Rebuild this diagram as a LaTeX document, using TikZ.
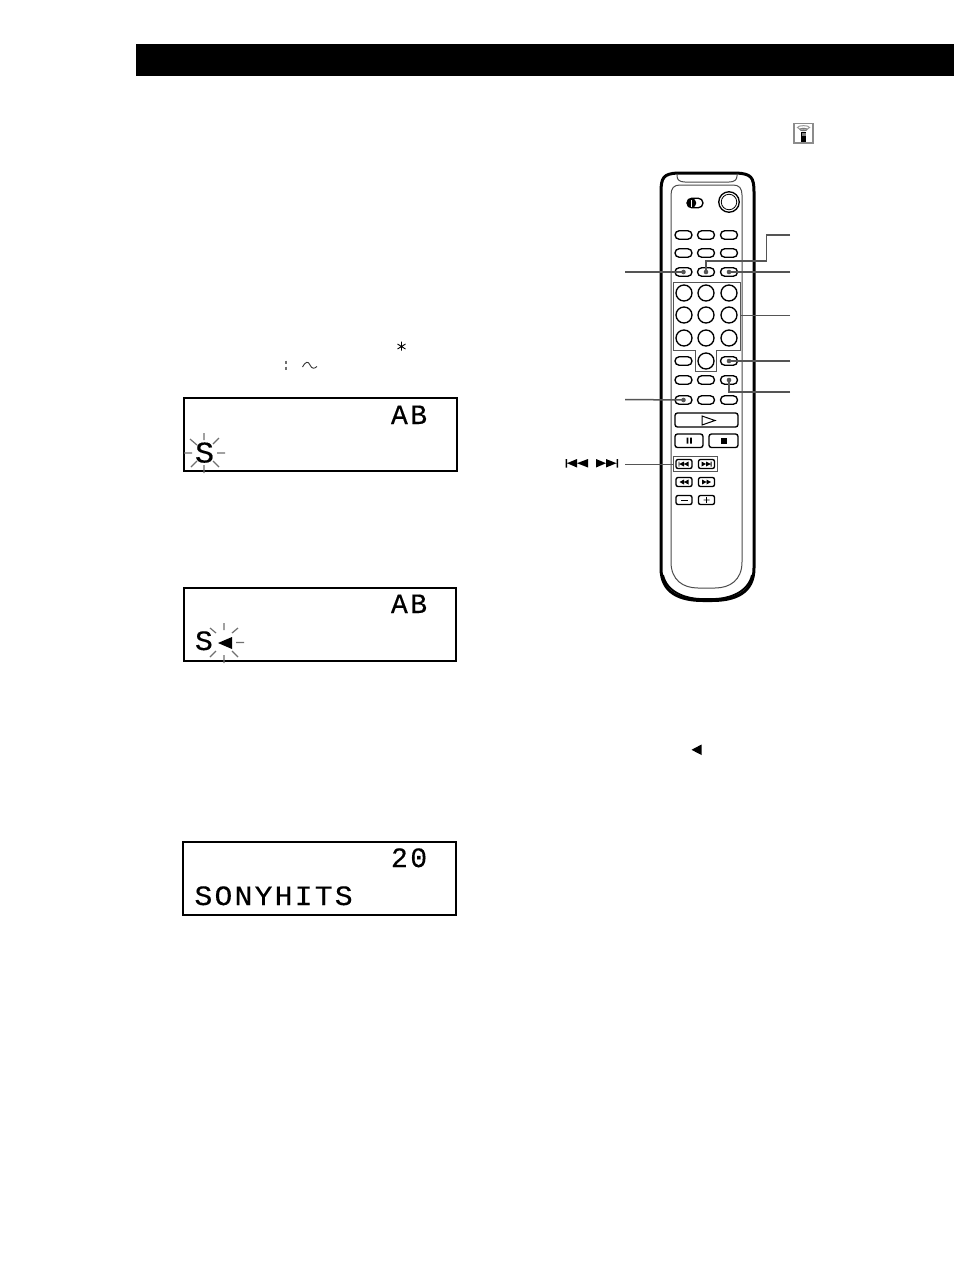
\documentclass[tikz,border=0pt]{standalone}
\usepackage{fontspec}
\newfontfamily\lcd[LetterSpace=8,FakeStretch=1.06,FakeBold=0.35]{Liberation Mono}
\newfontfamily\lcdn[LetterSpace=9,FakeStretch=1.0,FakeBold=0.35]{Liberation Mono}
\definecolor{lead}{HTML}{555555}
\definecolor{ray}{HTML}{707070}
\tikzset{
  every node/.style={inner sep=0pt,outer sep=0pt},
  screen/.style={draw=black,line width=2pt,minimum width=#1,minimum height=72.5pt,anchor=north west},
  oval/.style={draw=black,line width=1.35pt,rounded corners=4.2pt,minimum width=17pt,minimum height=8.5pt},
  keybtn/.style={draw=black,line width=1.35pt,rounded corners=2pt,minimum width=16pt,minimum height=9pt},
  numkey/.style={draw=black,line width=1.35pt,circle,minimum size=16pt},
  bigkey/.style={draw=black,line width=1.35pt,rounded corners=2.5pt,anchor=north west},
  leader/.style={draw=lead,line width=1.5pt},
  thinleader/.style={draw=lead,line width=1pt},
  dotmark/.style={fill=lead,circle,minimum size=4.6pt},
  burst/.style={draw=ray,line width=1.2pt},
  body/.style={draw=black,line width=3pt,fill=white},
  panel/.style={draw=black!70,line width=1pt},
  frame/.style={draw=lead,line width=1pt},
  disp/.style={anchor=base west}
}
\begin{document}
\begin{tikzpicture}[x=1pt,y=-1pt]
\useasboundingbox (0,0) rectangle (954,1272);
\fill[white] (0,0) rectangle (954,1272);
\fill[black] (136,44) rectangle (954,76);

% remote icon
\draw[draw=black!45,line width=1.2pt] (794,123.5) rectangle (813,143);
\fill[black] (801,132) rectangle (806,142);
\fill[black!50] (801.5,132.5) rectangle (805.5,136);
\draw[black!55,line width=1pt] (803.5,129.5) ellipse (3.5 and 1.2);
\draw[black!40,line width=1pt] (803.5,127.5) ellipse (6 and 1.8);

% small symbols
\draw[black,line width=0.9pt] (401.5,341.5) -- (401.5,350.5) (397.5,344) -- (405.5,349) (397.5,349) -- (405.5,344);
\draw[ray,line width=1.3pt] (286,360.5) -- (286,364) (286,366.5) -- (286,370);
\draw[black!80,line width=0.9pt] (302.5,367) .. controls (306,361) and (308,361) .. (310,365) .. controls (312,369) and (314,369) .. (317,366.5);
\fill[black] (701.5,744.5) -- (701.5,755) -- (691.5,749.8) -- cycle;

% display 1
\node[screen=273pt] (d1) at (184,398) {};
\node[disp,font=\lcdn\fontsize{28}{28}\selectfont] (d1ab) at (391,424) {AB};
\node[disp,font=\lcd\fontsize{30}{30}\selectfont] (d1s) at (195,462.5) {S};
\draw[burst] (184,453) -- (192,453) (217,453) -- (225,453) (204,433) -- (204,440) (204,465) -- (204,473)
  (190,439) -- (197,445) (219,438) -- (213,444) (191,467) -- (197,461) (219,467) -- (213,461);

% display 2
\node[screen=272pt] (d2) at (184,588) {};
\node[disp,font=\lcdn\fontsize{28}{28}\selectfont] (d2ab) at (391,613) {AB};
\node[disp,font=\lcd\fontsize{28}{28}\selectfont] (d2s) at (195,650) {S};
\fill[black] (232,637) -- (232,649) -- (218,643) -- cycle;
\draw[burst] (236,642.5) -- (244,642.5) (224,623) -- (224,630) (224,655) -- (224,663)
  (238,628) -- (232,633) (238,657) -- (232,651) (210,628) -- (216,633) (210,657) -- (216,651);

% display 3
\node[screen=273pt] (d3) at (183,842) {};
\node[disp,font=\lcdn\fontsize{28}{28}\selectfont] (d3n) at (391,867) {20};
\node[disp,font=\lcd\fontsize{28}{28}\selectfont] (d3t) at (194.5,905) {SONYHITS};

% remote body
\draw[body] (661,192) .. controls (661,177) and (664,174) .. (677,173) -- (737,173)
  .. controls (751,174) and (754,177) .. (754,192) -- (754,568)
  .. controls (754,593) and (735,600.5) .. (712,600.5) -- (703,600.5)
  .. controls (680,600.5) and (661,593) .. (661,568) -- cycle;
\draw[black,line width=1.8pt] (663,575) .. controls (667,592) and (685,599) .. (703,599) -- (712,599)
  .. controls (730,599) and (748,592) .. (752,575);
\draw[panel] (677,173.5) -- (677,176) .. controls (677,180) and (680,182) .. (685,182) -- (729,182)
  .. controls (734,182) and (737,180) .. (737,176) -- (737,173.5);
\draw[panel] (671,195) .. controls (671,188) and (674,185) .. (680,185) -- (733,185)
  .. controls (739,185) and (742,188) .. (742,195) -- (742,562)
  .. controls (742,580) and (730,588) .. (715,588) -- (698,588)
  .. controls (683,588) and (671,580) .. (671,562) -- cycle;

% power switch and big key
\node[draw=black,line width=1.35pt,rounded corners=4.8pt,minimum width=16pt,minimum height=9.6pt] (sw) at (695,203) {};
\fill[black] (691.5,203) circle (4.8);
\fill[white] (691,199.5) rectangle (691.8,206.5);
\node[numkey,minimum size=20.5pt] (pw) at (729,202) {};
\node[draw=black,line width=0.8pt,circle,minimum size=15.5pt] (pwi) at (729,202) {};

% oval rows
\node[oval] (a1) at (683.5,235) {};
\node[oval] (a2) at (706,235) {};
\node[oval] (a3) at (729,235) {};
\node[oval] (b1) at (683.5,253) {};
\node[oval] (b2) at (706,253) {};
\node[oval] (b3) at (729,253) {};
\node[oval] (c1) at (683.5,272) {};
\node[oval] (c2) at (706,272) {};
\node[oval] (c3) at (729,272) {};

% number keys
\node[numkey] (n1) at (684,293) {};
\node[numkey] (n2) at (706,293) {};
\node[numkey] (n3) at (729,293) {};
\node[numkey] (n4) at (684,315) {};
\node[numkey] (n5) at (706,315) {};
\node[numkey] (n6) at (729,315) {};
\node[numkey] (n7) at (684,338) {};
\node[numkey] (n8) at (706,338) {};
\node[numkey] (n9) at (729,338) {};
\node[numkey] (n0) at (706,361) {};
\draw[frame] (673,282) -- (740,282) -- (740,350) -- (716.7,350) -- (716.7,371) -- (695,371) -- (695,350) -- (673,350) -- cycle;
\coordinate (gridr) at (740,315);

\node[oval] (e1) at (683.5,361) {};
\node[oval] (e3) at (729,361) {};
\node[oval] (f1) at (683.5,380) {};
\node[oval] (f2) at (706,380) {};
\node[oval] (f3) at (729,380) {};
\node[oval] (g1) at (683.5,400) {};
\node[oval] (g2) at (706,400) {};
\node[oval] (g3) at (729,400) {};

% transport keys
\node[bigkey,minimum width=63pt,minimum height=14pt] (play) at (675,413) {};
\draw[black,line width=1pt] (702,416) -- (715,420.5) -- (702,425) -- cycle;
\node[bigkey,minimum width=28pt,minimum height=13.5pt] (pause) at (675,434) {};
\fill[black] (686.5,437.5) rectangle (688.3,443.5) (690,437.5) rectangle (691.8,443.5);
\node[bigkey,minimum width=29pt,minimum height=13.5pt] (stop) at (709,434) {};
\fill[black] (721,437.5) rectangle (727,443.5);

\node[draw=lead,line width=1pt,minimum width=44pt,minimum height=15pt,anchor=north west] (trk) at (673,456) {};
\node[keybtn] (t1) at (684,464) {};
\fill[black] (678.5,461.5) rectangle (679.3,466.5) (679.3,464) -- (684,461.5) -- (684,466.5) -- cycle (684,464) -- (688.5,461.5) -- (688.5,466.5) -- cycle;
\node[keybtn] (t2) at (706.5,464) {};
\fill[black] (711.5,461.5) rectangle (710.7,466.5) (710.7,464) -- (706,461.5) -- (706,466.5) -- cycle (706,464) -- (701.5,461.5) -- (701.5,466.5) -- cycle;
\node[keybtn] (s1) at (684,482) {};
\fill[black] (679.5,482) -- (684,479.5) -- (684,484.5) -- cycle (684,482) -- (688.5,479.5) -- (688.5,484.5) -- cycle;
\node[keybtn] (s2) at (706.5,482) {};
\fill[black] (711,482) -- (706.5,479.5) -- (706.5,484.5) -- cycle (706.5,482) -- (702,479.5) -- (702,484.5) -- cycle;
\node[keybtn] (v1) at (684,500) {};
\fill[black] (680.5,499.5) rectangle (687.5,500.5);
\node[keybtn] (v2) at (706.5,500) {};
\fill[black] (703.5,499.6) rectangle (709.5,500.4) (706.1,497.2) rectangle (706.9,502.8);

% skip symbols
\fill[black] (565.5,459) rectangle (567,467.5) (567,463.2) -- (577,459) -- (577,467.5) -- cycle (577,463.2) -- (588,459) -- (588,467.5) -- cycle;
\fill[black] (618,459) rectangle (616.5,467.5) (616.5,463.2) -- (606,459) -- (606,467.5) -- cycle (606,463.2) -- (596,459) -- (596,467.5) -- cycle;

% leaders
\node[dotmark] (dc1) at (683.5,272) {};
\node[dotmark] (dc2) at (706,272) {};
\node[dotmark] (dc3) at (729,272) {};
\node[dotmark] (de3) at (729,361) {};
\node[dotmark] (df3) at (729,380) {};
\node[dotmark] (dg1) at (683.5,400) {};
\coordinate (L1) at (625,272);
\coordinate (L2) at (625,399.5);
\coordinate (L3) at (625,464);
\coordinate (R1) at (790,235);
\coordinate (R2) at (790,272);
\coordinate (R3) at (790,315);
\coordinate (R4) at (790,361);
\coordinate (R5) at (790,392);
\draw[leader] (L1) -- (dc1.center);
\draw[leader] (L2) -- (dg1.center);
\draw[thinleader] (L3) -- (trk.west |- L3);
\draw[leader] (R1) -- (766.5,235) -- (766.5,261) -- (706,261) -- (dc2.center);
\draw[leader] (R2) -- (dc3.center);
\draw[thinleader] (R3) -- (gridr);
\draw[leader] (R4) -- (de3.center);
\draw[leader] (R5) -- (729,392) -- (df3.center);
\end{tikzpicture}
\end{document}
